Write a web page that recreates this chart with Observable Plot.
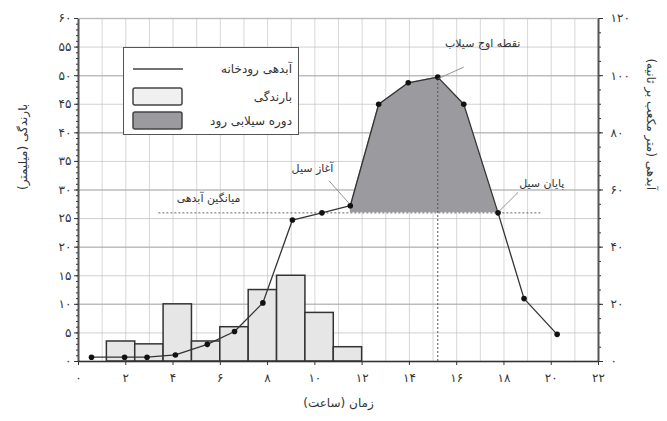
<!DOCTYPE html>
<html><head><meta charset="utf-8">
<script src="https://cdn.jsdelivr.net/npm/d3@7"></script>
<script src="https://cdn.jsdelivr.net/npm/@observablehq/plot@0.6"></script>
<style>
html,body{margin:0;padding:0;background:#fff;}
#wrap{position:relative;width:667px;height:421px;font-family:"DejaVu Sans",sans-serif;}
#legend{position:absolute;left:123px;top:47px;width:176px;height:88px;border:1.5px solid #555;background:#fff;box-sizing:border-box;font-size:12px;color:#333;}
#legend .row{position:absolute;left:8px;right:6px;height:20px;display:flex;align-items:center;justify-content:space-between;}
</style></head>
<body><div id="wrap"></div>
<script>
// ---- data ----
const rainStart = [1.2, 2.4, 3.6, 4.8, 6.0, 7.2, 8.4, 9.6, 10.8]; // hours
const rainWidth = 1.2;
const rainMM    = [3.5, 3, 10, 3.5, 6, 12.5, 15, 8.5, 2.5];
const qHours = [0.55, 1.95, 2.9, 4.1, 5.45, 6.6, 7.8, 9.05, 10.3, 11.5, 12.7, 13.95, 15.2, 16.3, 17.75, 18.85, 20.25];
const qValue = [1.5, 1.5, 1.5, 2.3, 6, 10.5, 20.5, 49.5, 52, 54.5, 90, 97.5, 99.5, 90, 52, 22, 9.5];
const floodBase = 52;       // m3/s (average discharge level)
const floodStartHour = 11.5, floodEndHour = 17.75, peakHour = 15.2, peakQ = 99.5;
const xTicks = [0,2,4,6,8,10,12,14,16,18,20,22];
const leftTicks = [0,5,10,15,20,25,30,35,40,45,50,55,60];
const rightTicks = [0,20,40,60,80,100,120];
const labels = {
  left: "بارندگی (میلیمتر)",
  right: "آبدهی (متر مکعب بر ثانیه)",
  bottom: "زمان (ساعت)",
  peak: "نقطه اوج سیلاب",
  start: "آغاز سیل",
  mean: "میانگین آبدهی",
  end: "پایان سیل",
  legLine: "آبدهی رودخانه",
  legRain: "بارندگی",
  legFlood: "دوره سیلابی رود"
};

// ---- helpers ----
const fa = n => String(n).replace(/\d/g, d => "۰۱۲۳۴۵۶۷۸۹"[d]);
const toMM = q => q / 2; // right axis (0-120) mapped on left axis (0-60)
const bars = rainStart.map((s, i) => ({x1: s, x2: s + rainWidth, v: rainMM[i]}));
const flow = qHours.map((h, i) => ({h, q: qValue[i]}));
const flood = flow.filter(d => d.h >= floodStartHour && d.h <= floodEndHour);
const font = "DejaVu Sans";

const chart = Plot.plot({
  width: 667, height: 421,
  marginLeft: 78, marginRight: 69, marginTop: 18, marginBottom: 60,
  style: {fontFamily: font, fontSize: "11px", color: "#333", background: "white", overflow: "visible"},
  x: {type: "linear", domain: [0, 22]},
  y: {type: "linear", domain: [0, 60]},
  marks: [
    Plot.gridX(d3.range(0, 23, 1), {stroke: "#bdbdbd", strokeOpacity: 0.6}),
    Plot.gridY(d3.range(0, 61, 5), {stroke: "#bdbdbd", strokeOpacity: 0.7}),
    Plot.gridY(d3.range(0, 61, 10), {stroke: "#aaa", strokeOpacity: 0.6, strokeWidth: 1.5}),
    Plot.areaY(flood, {x: "h", y1: toMM(floodBase), y2: d => toMM(d.q), fill: "#9b9b9f", curve: "linear"}),
    Plot.ruleY([toMM(floodBase)], {x1: 3.4, x2: 19.6, stroke: "#666", strokeDasharray: "2,2"}),
    Plot.ruleX([peakHour], {y1: 0, y2: toMM(peakQ), stroke: "#555", strokeDasharray: "2,2"}),
    Plot.rectY(bars, {x1: "x1", x2: "x2", y: "v", fill: "#e6e6e6", stroke: "#333", strokeWidth: 1.5}),
    Plot.line(flow, {x: "h", y: d => toMM(d.q), stroke: "#333", strokeWidth: 1.3}),
    Plot.dot(flow, {x: "h", y: d => toMM(d.q), r: 2.8, fill: "#111", stroke: "none"}),
    // frame lines
    Plot.ruleX([0, 22], {stroke: "#555", strokeWidth: 2}),
    Plot.ruleY([0], {stroke: "#333", strokeWidth: 1.5}),
    Plot.ruleY([60], {stroke: "#bbb", strokeWidth: 1}),
    // axes
    Plot.axisX({ticks: xTicks, tickFormat: fa, tickSize: 4, tickPadding: 8, label: null, fontSize: 12}),
    Plot.axisY({ticks: leftTicks, tickFormat: fa, tickSize: 4, tickPadding: 3, label: null, fontSize: 12}),
    Plot.axisY({ticks: d3.range(0, 61, 1), tickFormat: () => "", tickSize: 2, label: null}),
    Plot.axisY({anchor: "right", ticks: rightTicks.map(toMM), tickFormat: d => fa(d * 2), tickSize: 4, tickPadding: 8, label: null, fontSize: 12}),
    Plot.axisY({anchor: "right", ticks: d3.range(0, 61, 2.5), tickFormat: () => "", tickSize: 2, label: null}),
    // axis titles
    Plot.text([labels.left], {frameAnchor: "left", dx: -55, rotate: -90, fontSize: 12, fill: "#333"}),
    Plot.text([labels.right], {frameAnchor: "right", dx: 52, rotate: 90, fontSize: 12, fill: "#333"}),
    Plot.text([labels.bottom], {frameAnchor: "bottom", dy: 45, fontSize: 12, fill: "#333"}),
    // annotations
    Plot.text([labels.peak], {x: 17.1, y: 55.6, fontSize: 11, fill: "#333"}),
    Plot.link([0], {x1: peakHour, y1: toMM(peakQ) - 0.3, x2: 16.3, y2: 51.5, stroke: "#777", strokeWidth: 0.8}),
    Plot.text([labels.start], {x: 9.9, y: 33.7, fontSize: 11, fill: "#333"}),
    Plot.link([0], {x1: 10.6, y1: 31.6, x2: floodStartHour - 0.05, y2: toMM(54.5) + 0.4, stroke: "#777", strokeWidth: 0.8}),
    Plot.text([labels.mean], {x: 5.5, y: 28.6, fontSize: 11, fill: "#333"}),
    Plot.text([labels.end], {x: 19.6, y: 31.2, fontSize: 11, fill: "#333"}),
    Plot.link([0], {x1: 18.6, y1: 29.6, x2: floodEndHour + 0.05, y2: toMM(floodBase) + 0.3, stroke: "#777", strokeWidth: 0.8})
  ]
});

const wrap = document.getElementById("wrap");
wrap.appendChild(chart);
const leg = document.createElement("div");
leg.id = "legend";
leg.innerHTML = `
 <div class="row" style="top:11px"><svg width="52" height="6"><line x1="1" y1="3" x2="51" y2="3" stroke="#444" stroke-width="1.5"/></svg><span>${labels.legLine}</span></div>
 <div class="row" style="top:39px"><svg width="52" height="20"><rect x="1" y="1" width="49" height="17" rx="2" fill="#f0f0f0" stroke="#444" stroke-width="1.5"/></svg><span>${labels.legRain}</span></div>
 <div class="row" style="top:63px"><svg width="52" height="20"><rect x="1" y="1" width="49" height="17" rx="2" fill="#9b9b9f" stroke="#444" stroke-width="1.5"/></svg><span>${labels.legFlood}</span></div>`;
wrap.appendChild(leg);
</script></body></html>
